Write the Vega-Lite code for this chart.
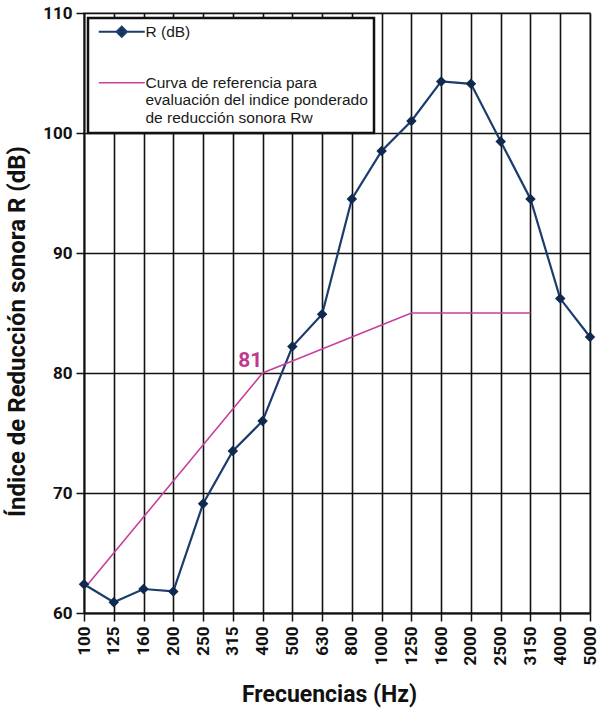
{
  "$schema": "https://vega.github.io/schema/vega-lite/v6.json",
  "width": 506,
  "height": 600,
  "autosize": {"type": "none"},
  "padding": {"left": 84, "top": 13, "right": 14, "bottom": 95},
  "background": "white",
  "config": {
    "view": {"stroke": "#8095aa", "strokeWidth": 1.5},
    "font": "Roboto"
  },
  "datasets": {
    "valores": [
      {"freq": "100", "serie": "R (dB)", "valor": 62.4},
      {"freq": "125", "serie": "R (dB)", "valor": 60.9},
      {"freq": "160", "serie": "R (dB)", "valor": 62.0},
      {"freq": "200", "serie": "R (dB)", "valor": 61.8},
      {"freq": "250", "serie": "R (dB)", "valor": 69.1},
      {"freq": "315", "serie": "R (dB)", "valor": 73.5},
      {"freq": "400", "serie": "R (dB)", "valor": 76.0},
      {"freq": "500", "serie": "R (dB)", "valor": 82.2},
      {"freq": "630", "serie": "R (dB)", "valor": 84.9},
      {"freq": "800", "serie": "R (dB)", "valor": 94.5},
      {"freq": "1000", "serie": "R (dB)", "valor": 98.5},
      {"freq": "1250", "serie": "R (dB)", "valor": 101.0},
      {"freq": "1600", "serie": "R (dB)", "valor": 104.3},
      {"freq": "2000", "serie": "R (dB)", "valor": 104.1},
      {"freq": "2500", "serie": "R (dB)", "valor": 99.3},
      {"freq": "3150", "serie": "R (dB)", "valor": 94.5},
      {"freq": "4000", "serie": "R (dB)", "valor": 86.2},
      {"freq": "5000", "serie": "R (dB)", "valor": 83.0},
      {"freq": "100", "serie": "Curva de referencia para evaluación del indice ponderado de reducción sonora Rw", "valor": 62},
      {"freq": "125", "serie": "Curva de referencia para evaluación del indice ponderado de reducción sonora Rw", "valor": 65},
      {"freq": "160", "serie": "Curva de referencia para evaluación del indice ponderado de reducción sonora Rw", "valor": 68},
      {"freq": "200", "serie": "Curva de referencia para evaluación del indice ponderado de reducción sonora Rw", "valor": 71},
      {"freq": "250", "serie": "Curva de referencia para evaluación del indice ponderado de reducción sonora Rw", "valor": 74},
      {"freq": "315", "serie": "Curva de referencia para evaluación del indice ponderado de reducción sonora Rw", "valor": 77},
      {"freq": "400", "serie": "Curva de referencia para evaluación del indice ponderado de reducción sonora Rw", "valor": 80},
      {"freq": "500", "serie": "Curva de referencia para evaluación del indice ponderado de reducción sonora Rw", "valor": 81},
      {"freq": "630", "serie": "Curva de referencia para evaluación del indice ponderado de reducción sonora Rw", "valor": 82},
      {"freq": "800", "serie": "Curva de referencia para evaluación del indice ponderado de reducción sonora Rw", "valor": 83},
      {"freq": "1000", "serie": "Curva de referencia para evaluación del indice ponderado de reducción sonora Rw", "valor": 84},
      {"freq": "1250", "serie": "Curva de referencia para evaluación del indice ponderado de reducción sonora Rw", "valor": 85},
      {"freq": "1600", "serie": "Curva de referencia para evaluación del indice ponderado de reducción sonora Rw", "valor": 85},
      {"freq": "2000", "serie": "Curva de referencia para evaluación del indice ponderado de reducción sonora Rw", "valor": 85},
      {"freq": "2500", "serie": "Curva de referencia para evaluación del indice ponderado de reducción sonora Rw", "valor": 85},
      {"freq": "3150", "serie": "Curva de referencia para evaluación del indice ponderado de reducción sonora Rw", "valor": 85}
    ],
    "etiqueta": [
      {"freq": "500", "valor": 81, "texto": "81"}
    ]
  },
  "encoding": {
    "x": {
      "field": "freq",
      "type": "ordinal",
      "sort": ["100", "125", "160", "200", "250", "315", "400", "500", "630", "800", "1000", "1250", "1600", "2000", "2500", "3150", "4000", "5000"],
      "scale": {"type": "point", "padding": 0},
      "axis": {
        "title": "Frecuencias (Hz)",
        "titleFont": "Roboto",
        "titleFontSize": 23,
        "titleFontWeight": "bold",
        "titleColor": "#111",
        "titleX": 245,
        "titleY": 88,
        "titleBaseline": "alphabetic",
        "titleAlign": "center",
        "labelAngle": 270,
        "labelFont": "Roboto",
        "labelFontSize": 17,
        "labelFontWeight": "bold",
        "labelColor": "#111",
        "labelPadding": 5,
        "tickSize": 8,
        "tickColor": "#111",
        "tickWidth": 1.5,
        "domainColor": "#111",
        "domainWidth": 1.8,
        "grid": true,
        "gridColor": "#111",
        "gridWidth": 1.6,
        "gridOpacity": 1
      }
    },
    "y": {
      "field": "valor",
      "type": "quantitative",
      "scale": {"domain": [60, 110], "nice": false, "zero": false},
      "axis": {
        "title": "Índice de Reducción sonora R (dB)",
        "titleFont": "Roboto",
        "titleFontSize": 24,
        "titleFontWeight": "bold",
        "titleColor": "#111",
        "titleAngle": 270,
        "titleBaseline": "bottom",
        "titleAlign": "center",
        "titleX": -55,
        "titleY": 318,
        "values": [60, 70, 80, 90, 100, 110],
        "labelFont": "Roboto",
        "labelFontSize": 17,
        "labelFontWeight": "bold",
        "labelColor": "#111",
        "labelPadding": 4,
        "tickSize": 8,
        "tickColor": "#111",
        "tickWidth": 1.5,
        "domainColor": "#111",
        "domainWidth": 1.8,
        "grid": true,
        "gridColor": "#111",
        "gridWidth": 1.6,
        "gridOpacity": 1
      }
    }
  },
  "layer": [
    {
      "data": {"name": "valores"},
      "mark": {"type": "line"},
      "encoding": {
        "color": {
          "field": "serie",
          "type": "nominal",
          "scale": {
            "domain": ["R (dB)", "Curva de referencia para evaluación del indice ponderado de reducción sonora Rw"],
            "range": ["#1b3c6d", "#c8409c"]
          },
          "legend": {
            "title": null,
            "orient": "none",
            "legendX": 4,
            "legendY": 5,
            "direction": "vertical",
            "strokeColor": "#111",
            "fillColor": "white",
            "padding": 6,
            "symbolType": "stroke",
            "symbolSize": 100,
            "symbolStrokeWidth": 2,
            "labelFont": "Liberation Sans",
            "labelFontSize": 15.5,
            "labelColor": "#1a1a1a",
            "labelLimit": 400,
            "labelOffset": 36,
            "rowPadding": 33,
            "labelBaseline": "alphabetic",
            "labelExpr": "datum.label == 'R (dB)' ? datum.label : ['Curva de referencia para', 'evaluación del indice ponderado', 'de reducción sonora Rw']",
            "encode": {
              "legend": {
                "update": {
                  "strokeWidth": {"value": 2.5}
                }
              },
              "symbols": {
                "update": {
                  "shape": {"signal": "datum.value == 'R (dB)' ? 'M-0.6,0H8.6M4,-1L5,0L4,1L3,0Z' : 'M-0.6,0H8.6'"},
                  "fill": {"signal": "datum.value == 'R (dB)' ? '#10294f' : 'transparent'"}
                }
              },
              "labels": {
                "update": {
                  "dy": {"value": 5},
                  "lineHeight": {"value": 17.5}
                }
              }
            }
          }
        },
        "strokeWidth": {
          "field": "serie",
          "type": "nominal",
          "scale": {
            "domain": ["R (dB)", "Curva de referencia para evaluación del indice ponderado de reducción sonora Rw"],
            "range": [2.2, 1.6]
          },
          "legend": null
        }
      }
    },
    {
      "data": {"name": "valores"},
      "transform": [{"filter": "datum.serie == 'R (dB)'"}],
      "mark": {"type": "point", "shape": "diamond", "filled": true, "size": 110, "color": "#10294f", "opacity": 1}
    },
    {
      "data": {"name": "etiqueta"},
      "mark": {"type": "text", "align": "right", "baseline": "alphabetic", "dx": -30, "dy": 6, "font": "Roboto", "fontSize": 21, "fontWeight": "bold", "color": "#c0398e"},
      "encoding": {"text": {"field": "texto"}}
    }
  ]
}
